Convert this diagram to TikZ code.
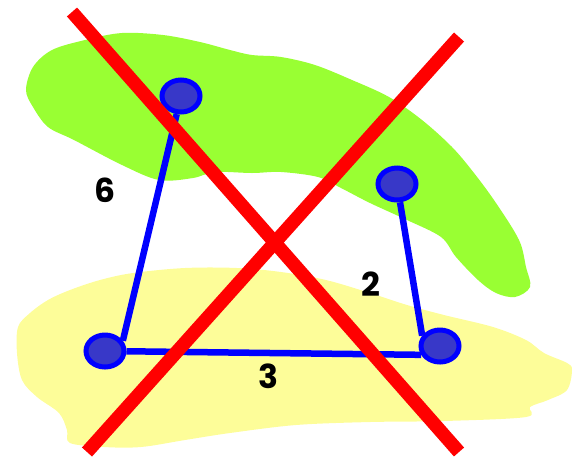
\documentclass[tikz,border=0pt]{standalone}
\usepackage{fontspec}
\setmainfont{Poppins}
\usetikzlibrary{shapes.geometric}
\definecolor{blobgreen}{RGB}{153,255,51}
\definecolor{blobyellow}{RGB}{253,253,153}
\definecolor{vertexfill}{RGB}{56,56,200}

\begin{document}
\begin{tikzpicture}[x=1pt,y=-1pt,
vertex/.style={ellipse,draw=blue,line width=5pt,fill=vertexfill,minimum width=38pt,minimum height=32pt,inner sep=0pt},
edge/.style={draw=blue,line width=6.5pt},
cross/.style={draw=red,line width=13.5pt},
lab/.style={font=\fontsize{33}{33}\selectfont\bfseries,inner sep=0pt}]
\useasboundingbox (0,0) rectangle (577,459);
% blobs
\fill[blobgreen] plot[smooth cycle,tension=0.55] coordinates {(26,90) (33,67) (52,50) (85,40) (122,33) (163,35) (200,42) (230,50) (252,55) (281,57) (315,65) (352,80) (389,97) (422,120) (452,147) (474,173) (496,203) (519,240) (526,267) (530,287) (515,297) (496,293) (478,280) (456,257) (441,237) (407,220) (370,203) (341,188) (318,177) (281,172) (252,173) (215,172) (193,178) (159,180) (122,165) (74,140) (48,127) (33,107)};
\fill[blobyellow] plot[smooth cycle,tension=0.55] coordinates {(30,313) (48,300) (70,290) (100,280) (133,273) (185,268) (237,268) (281,272) (326,280) (370,293) (407,305) (444,315) (493,327) (526,340) (544,353) (567,363) (572,370) (567,390) (548,400) (530,407) (526,417) (444,421) (370,422) (296,425) (230,433) (185,440) (141,447) (104,447) (70,443) (67,430) (59,413) (37,397) (22,380) (17,353) (18,327)};
% graph
\node[vertex] (top) at (181,96) {};
\node[vertex] (right) at (397,184) {};
\node[vertex] (botleft) at (105,351) {};
\node[vertex] (botright) at (440,346) {};
\draw[edge] (top) -- (botleft.30);
\draw[edge] (right) -- (botright.150);
\draw[edge] (botleft) -- (botright.205);
\node[lab] (w6) at (105,190) {6};
\node[lab] (w2) at (371,284) {2};
\node[lab] (w3) at (268,376) {3};
% the cross
\draw[cross] (72,12) -- (459,452);
\draw[cross] (459,37) -- (87,452);
\end{tikzpicture}
\end{document}
